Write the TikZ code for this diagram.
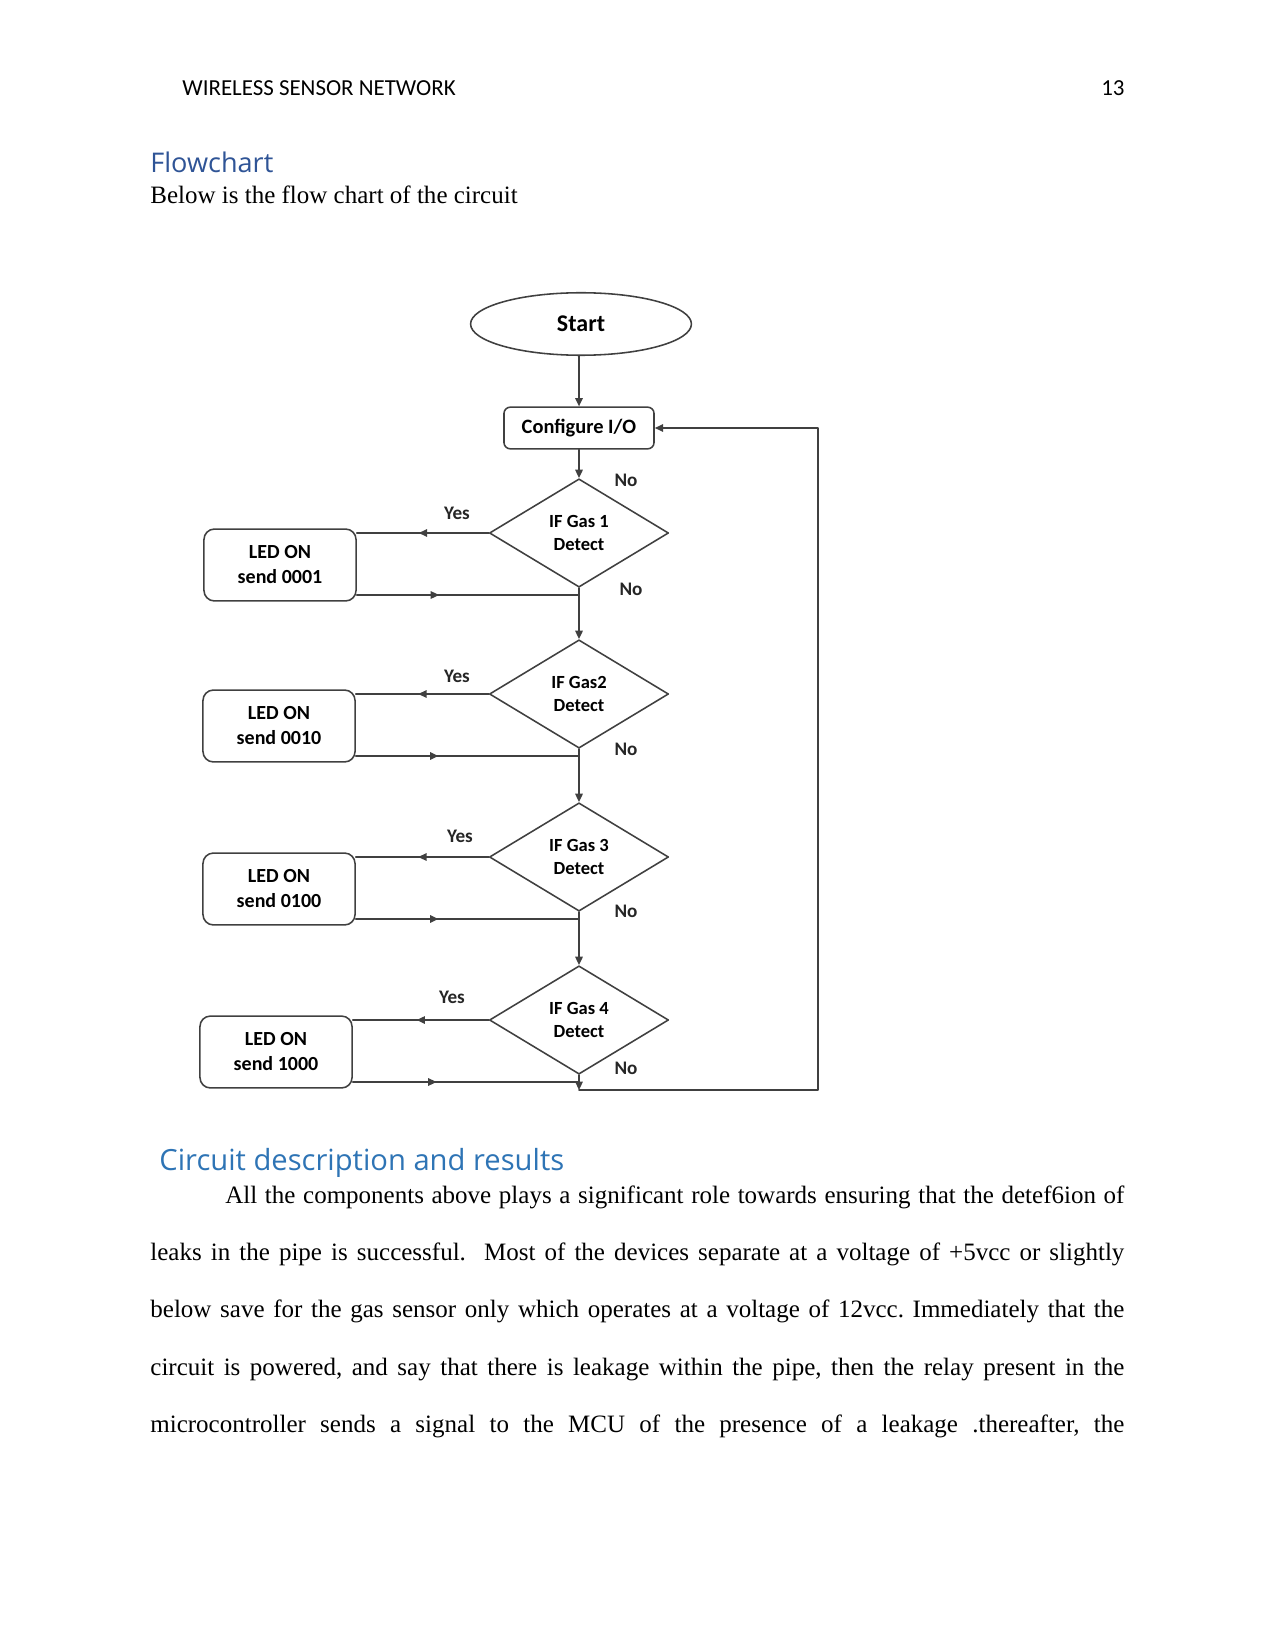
\documentclass[tikz,border=0pt]{standalone}
\usepackage{fontspec}
\setmainfont{Liberation Serif}
\newfontfamily\calibri{Carlito}
\newfontfamily\headfont{Open Sans}
\usetikzlibrary{shapes.geometric,arrows.meta,decorations.markings}

\definecolor{stroke}{HTML}{404040}
\definecolor{headA}{HTML}{2f5496}
\definecolor{headB}{HTML}{2e74b5}

\begin{document}
\frenchspacing
\begin{tikzpicture}[
  x=0.48pt, y=-0.48pt,
  line cap=round, line join=round,
  every node/.style={inner sep=0pt},
  flow/.style={draw=stroke, line width=0.75pt, >={Triangle[length=4pt,width=3.6pt]}},
  midarrow/.style={postaction={decorate}, decoration={markings, mark=at position #1 with {\arrow{Triangle[length=4pt,width=3.6pt]}}}},
  terminal/.style={ellipse, draw=stroke, line width=0.75pt, minimum width=106pt, minimum height=30pt, font=\calibri\bfseries\fontsize{11.5}{13}\selectfont},
  process/.style={rectangle, rounded corners=3pt, draw=stroke, line width=0.75pt, minimum width=72pt, minimum height=20pt, font=\calibri\bfseries\fontsize{9.8}{11}\selectfont},
  ledbox/.style={rectangle, rounded corners=5pt, draw=stroke, line width=0.75pt, minimum width=73pt, minimum height=34.5pt, align=center, font=\calibri\bfseries\fontsize{9.6}{12}\selectfont},
  decision/.style={diamond, aspect=1.65, draw=stroke, line width=0.75pt, minimum width=86pt, minimum height=52pt, align=center, font=\calibri\bfseries\fontsize{8.9}{11}\selectfont},
  branch/.style={font=\calibri\bfseries\fontsize{9.2}{11}\selectfont, text=black!85},
  bodyline/.style={anchor=base west, font=\fontsize{12}{14}\selectfont},
]
\useasboundingbox (0,0) rectangle (1275,1650);

% page text
\node[anchor=base west, font=\calibri\fontsize{11}{13}\selectfont] (hdtitle) at (182,96) {WIRELESS SENSOR NETWORK};
\node[anchor=base east, font=\calibri\fontsize{11}{13}\selectfont] (hdpage) at (1125,96) {13};
\node[anchor=base west, font=\headfont\fontsize{13}{15}\selectfont, text=headA] (secflow) at (150,173) {Flowchart};
\node[bodyline] (intro) at (150,204) {Below is the flow chart of the circuit};

% flowchart
\node[terminal] (start) at (581,324) {Start};
\node[process] (cfg) at (579,428) {Configure I/O};
\node[decision] (gas1) at (579,533) {IF Gas 1\\Detect};
\node[decision] (gas2) at (579,694) {IF Gas2\\Detect};
\node[decision] (gas3) at (579,857) {IF Gas 3\\Detect};
\node[decision] (gas4) at (579,1020) {IF Gas 4\\Detect};
\node[ledbox] (led1) at (280,565) {LED ON\\send 0001};
\node[ledbox] (led2) at (279,726) {LED ON\\send 0010};
\node[ledbox] (led3) at (279,889) {LED ON\\send 0100};
\node[ledbox] (led4) at (276,1052) {LED ON\\send 1000};

\coordinate (join1) at (579,595);
\coordinate (join2) at (579,756);
\coordinate (join3) at (579,919);
\coordinate (join4) at (579,1082);
\coordinate (loopA) at (579,1090);
\coordinate (loopB) at (818,1090);

\draw[flow,->] (start.south -| cfg) -- (cfg.north);
\draw[flow,->] (cfg.south) -- (gas1.north);
\draw[flow,->] (gas1.south) -- (gas2.north);
\draw[flow,->] (gas2.south) -- (gas3.north);
\draw[flow,->] (gas3.south) -- (gas4.north);
\draw[flow,->] (gas4.south) -- (loopA);
\draw[flow,->] (loopA) -- (loopB) |- (cfg.east);

\draw[flow, midarrow=0.53] (gas1.west) -- (gas1.west -| led1.east);
\draw[flow, midarrow=0.53] (gas2.west) -- (gas2.west -| led2.east);
\draw[flow, midarrow=0.53] (gas3.west) -- (gas3.west -| led3.east);
\draw[flow, midarrow=0.53] (gas4.west) -- (gas4.west -| led4.east);
\draw[flow, midarrow=0.37] (join1 -| led1.east) -- (join1);
\draw[flow, midarrow=0.37] (join2 -| led2.east) -- (join2);
\draw[flow, midarrow=0.37] (join3 -| led3.east) -- (join3);
\draw[flow, midarrow=0.37] (join4 -| led4.east) -- (join4);

\node[branch] (yes1) at (457,513) {Yes};
\node[branch] (yes2) at (457,676) {Yes};
\node[branch] (yes3) at (460,836) {Yes};
\node[branch] (yes4) at (452,997) {Yes};
\node[branch] (no0) at (626,480) {No};
\node[branch] (no1) at (631,589) {No};
\node[branch] (no2) at (626,749) {No};
\node[branch] (no3) at (626,911) {No};
\node[branch] (no4) at (626,1068) {No};

% results section
\node[anchor=base west, font=\headfont\fontsize{14}{16}\selectfont, text=headB] (seccirc) at (159,1170) {Circuit description and results};
\node[bodyline] (para1) at (225,1203) {\makebox[431.5pt][s]{All the components above plays a significant role towards ensuring that the detef6ion of}};
\node[bodyline] (para2) at (150,1260) {\makebox[467.5pt][s]{leaks in the pipe is successful.\ \ Most of the devices separate at a voltage of +5vcc or slightly}};
\node[bodyline] (para3) at (150,1317) {\makebox[467.5pt][s]{below save for the gas sensor only which operates at a voltage of 12vcc. Immediately that the}};
\node[bodyline] (para4) at (150,1375) {\makebox[467.5pt][s]{circuit is powered, and say that there is leakage within the pipe, then the relay present in the}};
\node[bodyline] (para5) at (150,1432) {\makebox[467.5pt][s]{microcontroller sends a signal to the MCU of the presence of a leakage .thereafter, the}};
\end{tikzpicture}
\end{document}
